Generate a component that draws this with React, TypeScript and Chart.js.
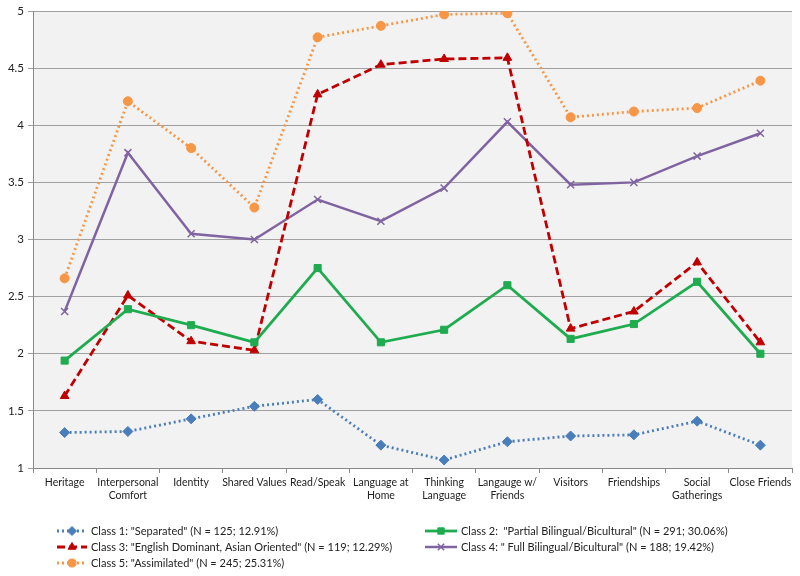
import React, { useEffect, useRef } from "react";
import { Chart, registerables } from "chart.js";
import { drawPoint } from "chart.js/helpers";

Chart.register(...registerables);

const categories: (string | string[])[] = [
  "Heritage",
  ["Interpersonal", "Comfort"],
  "Identity",
  "Shared Values",
  "Read/Speak",
  ["Language at", "Home"],
  ["Thinking", "Language"],
  ["Langauge w/", "Friends"],
  "Visitors",
  "Friendships",
  ["Social", "Gatherings"],
  "Close Friends",
];

const class1 = [1.31, 1.32, 1.43, 1.54, 1.6, 1.2, 1.07, 1.23, 1.28, 1.29, 1.41, 1.2];
const class2 = [1.94, 2.39, 2.25, 2.1, 2.75, 2.1, 2.21, 2.6, 2.13, 2.26, 2.63, 2.0];
const class3 = [1.63, 2.51, 2.11, 2.03, 4.27, 4.53, 4.58, 4.59, 2.22, 2.37, 2.8, 2.1];
const class4 = [2.37, 3.76, 3.05, 3.0, 3.35, 3.16, 3.45, 4.03, 3.48, 3.5, 3.73, 3.93];
const class5 = [2.66, 4.21, 3.8, 3.28, 4.77, 4.87, 4.97, 4.98, 4.07, 4.12, 4.15, 4.39];

const seriesLabels = [
  'Class 1: "Separated" (N = 125; 12.91%)',
  'Class 2:  "Partial Bilingual/Bicultural" (N = 291; 30.06%)',
  'Class 3: "English Dominant, Asian Oriented" (N = 119; 12.29%)',
  'Class 4: " Full Bilingual/Bicultural" (N = 188; 19.42%)',
  'Class 5: "Assimilated" (N = 245; 25.31%)',
];

const yTicks = { min: 1, max: 5, step: 0.5 };

const FONT = "Lato, 'Open Sans', sans-serif";

const bgPlugin = {
  id: "plotBg",
  beforeDraw(chart: any) {
    const { ctx, chartArea } = chart;
    ctx.save();
    ctx.fillStyle = "#f2f2f2";
    ctx.fillRect(chartArea.left, chartArea.top, chartArea.right - chartArea.left, chartArea.bottom - chartArea.top);
    ctx.restore();
  },
};

const legendPlugin = {
  id: "gridLegend",
  afterDraw(chart: any) {
    const { ctx, chartArea } = chart;
    const ds = chart.data.datasets;
    const colX = [57, 425];
    const iconW = [30, 32];
    const rowY0 = chartArea.bottom + 63;
    const rowH = 16;
    ctx.save();
    ds.forEach((d: any, i: number) => {
      const col = i % 2;
      const row = Math.floor(i / 2);
      const x = colX[col];
      const w = iconW[col];
      const y = rowY0 + row * rowH;
      ctx.strokeStyle = d.borderColor;
      ctx.lineWidth = d.borderWidth;
      ctx.setLineDash(d.borderDash || []);
      ctx.beginPath();
      ctx.moveTo(x, y);
      ctx.lineTo(x + w, y);
      ctx.stroke();
      ctx.setLineDash([]);
      ctx.fillStyle = d.borderColor;
      ctx.strokeStyle = d.borderColor;
      ctx.lineWidth = d.pointBorderWidth ?? 1;
      drawPoint(
        ctx,
        {
          pointStyle: d.pointStyle,
          radius: d.pointRadius * 0.9,
          borderWidth: d.pointBorderWidth ?? 1,
          rotation: 0,
        } as any,
        x + w / 2,
        y
      );
      ctx.fillStyle = "#222";
      ctx.font = `11px ${FONT}`;
      ctx.textBaseline = "middle";
      ctx.textAlign = "left";
      ctx.fillText(d.label, x + w + 4, y);
    });
    ctx.restore();
  },
};

function mk(label: string, data: number[], color: string, style: string, dash: number[], width: number, radius: number) {
  return {
    label,
    data,
    borderColor: color,
    backgroundColor: color,
    pointBackgroundColor: color,
    pointBorderColor: color,
    borderWidth: width,
    borderDash: dash,
    pointStyle: style,
    pointRadius: radius,
    pointBorderWidth: style === "crossRot" ? 1.5 : 1,
    tension: 0,
    fill: false,
  };
}

export default function App() {
  const ref = useRef<HTMLCanvasElement>(null);
  useEffect(() => {
    document.body.style.margin = "0";
    const chart = new Chart(ref.current!, {
      type: "line",
      data: {
        labels: categories,
        datasets: [
          mk(seriesLabels[0], class1, "#4a7ebb", "rectRot", [2, 3], 2.8, 5),
          mk(seriesLabels[1], class2, "#1fab4f", "rect", [], 2.8, 5),
          mk(seriesLabels[2], class3, "#c00000", "triangle", [8, 4], 2.8, 5),
          mk(seriesLabels[3], class4, "#8064a2", "crossRot", [], 2.5, 5),
          mk(seriesLabels[4], class5, "#f79646", "circle", [2, 3], 2.8, 4.5),
        ] as any,
      },
      options: {
        responsive: true,
        maintainAspectRatio: false,
        animation: false,
        layout: { padding: { left: 0, right: 8, top: 11, bottom: 48 } },
        plugins: { legend: { display: false }, tooltip: { enabled: false } },
        scales: {
          x: {
            offset: true,
            grid: {
              offset: true,
              drawOnChartArea: false,
              color: "#888",
              tickLength: 5,
            },
            border: { color: "#888" },
            ticks: {
              autoSkip: false,
              maxRotation: 0,
              minRotation: 0,
              color: "#222",
              font: { family: FONT, size: 10.5, lineHeight: 1.15 },
              padding: 4,
            },
            afterFit(scale: any) {
              scale.height = 60;
            },
          },
          y: {
            min: yTicks.min,
            max: yTicks.max,
            grid: { color: "#a0a0a0", tickLength: 5, lineWidth: 1 },
            border: { color: "#888" },
            ticks: {
              stepSize: yTicks.step,
              color: "#222",
              font: { family: FONT, size: 11.5 },
              padding: 4,
              callback: (v: any) => String(v),
            },
            afterFit(scale: any) {
              scale.width = 33;
            },
          },
        },
      },
      plugins: [bgPlugin, legendPlugin],
    });
    return () => chart.destroy();
  }, []);
  return (
    <div style={{ width: 800, height: 576, position: "relative", background: "#fff" }}>
      <canvas ref={ref} />
    </div>
  );
}
